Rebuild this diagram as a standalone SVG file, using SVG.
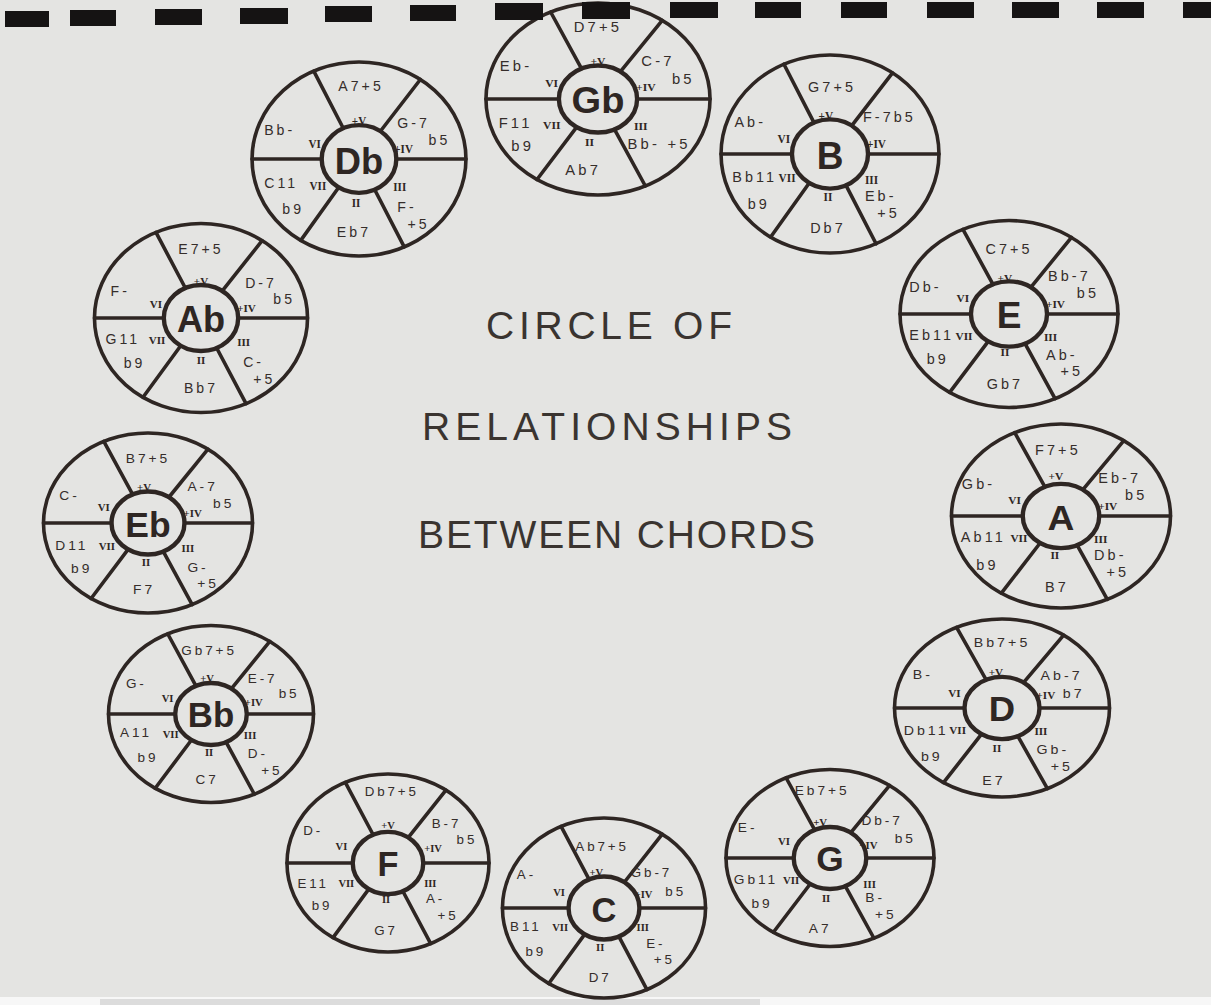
<svg xmlns="http://www.w3.org/2000/svg" xmlns:xlink="http://www.w3.org/1999/xlink" width="1211" height="1005" viewBox="0 0 1211 1005">
<style>
.ink{fill:none;stroke:#2e2623;stroke-width:3.6;vector-effect:non-scaling-stroke;stroke-linecap:round}
.inn{fill:none;stroke:#2e2623;stroke-width:4.4;vector-effect:non-scaling-stroke}
.lbl{font-family:"Liberation Sans",Arial,sans-serif;font-size:14px;fill:#352d2a;letter-spacing:3px}
.num{font-family:"Liberation Serif","Times New Roman",serif;font-weight:bold;font-size:11px;fill:#2e2623}
.key{font-family:"Liberation Sans",Arial,sans-serif;font-size:36px;font-weight:bold;fill:#2e2623;text-anchor:middle}
.m{text-anchor:middle}
.title{font-family:"Liberation Sans",Arial,sans-serif;font-size:39px;fill:#3a3430}
.hole{fill:#151313}
</style>
<defs>
<g id="wheel">
<ellipse class="ink" cx="0" cy="0" rx="106" ry="93"/>
<ellipse class="inn" cx="0" cy="0" rx="37" ry="32.5"/>
<line class="ink" x1="-15.6" y1="-29.5" x2="-44.8" y2="-84.3"/>
<line class="ink" x1="21.2" y1="-26.6" x2="60.8" y2="-76.2"/>
<line class="ink" x1="37" y1="0" x2="106" y2="0"/>
<line class="ink" x1="15.6" y1="29.5" x2="44.8" y2="84.3"/>
<line class="ink" x1="-20.2" y1="27.3" x2="-57.7" y2="78"/>
<line class="ink" x1="-37" y1="0" x2="-106" y2="0"/>
</g>
</defs>
<rect x="0" y="0" width="1211" height="1005" fill="#e4e4e2"/>
<rect x="0" y="997" width="1211" height="8" fill="#f7f7f7"/>
<rect x="100" y="999" width="660" height="6" fill="#c9c9c9" opacity="0.6"/>

<g id="title">
<text class="title" x="486" y="339" textLength="246" lengthAdjust="spacing">CIRCLE OF</text>
<text class="title" x="422" y="440" textLength="370" lengthAdjust="spacing">RELATIONSHIPS</text>
<text class="title" x="418" y="548" textLength="397" lengthAdjust="spacing">BETWEEN CHORDS</text>
</g>

<g id="wheel-Gb" transform="translate(598,99) scale(1.057,1.032)">
<use href="#wheel"/>
<text class="lbl m" x="0" y="-65">D7+5</text>
<text class="num m" x="0" y="-33">+V</text>
<text class="lbl" x="41" y="-32">C-7</text>
<text class="lbl" x="70" y="-15">b5</text>
<text class="num" x="36" y="-8">+IV</text>
<text class="num" x="34" y="30">III</text>
<text class="lbl" x="28" y="48">Bb- +5</text>
<text class="num m" x="-8" y="46">II</text>
<text class="lbl m" x="-14" y="74">Ab7</text>
<text class="num" x="-52" y="29">VII</text>
<text class="lbl" x="-94" y="28">F11</text>
<text class="lbl" x="-82" y="50">b9</text>
<text class="num" x="-50" y="-12">VI</text>
<text class="lbl" x="-93" y="-27">Eb-</text>
<text class="key" x="0" y="14">Gb</text>
</g>

<g id="wheel-Db" transform="translate(359,159) scale(1.009,1.043)">
<use href="#wheel"/>
<text class="lbl m" x="2" y="-65">A7+5</text>
<text class="num m" x="0" y="-33">+V</text>
<text class="lbl" x="38" y="-30">G-7</text>
<text class="lbl" x="69" y="-13">b5</text>
<text class="num" x="35" y="-6">+IV</text>
<text class="num" x="34" y="31">III</text>
<text class="lbl" x="38" y="51">F-</text>
<text class="lbl" x="48" y="67">+5</text>
<text class="num m" x="-3" y="46">II</text>
<text class="lbl m" x="-5" y="75">Eb7</text>
<text class="num" x="-49" y="30">VII</text>
<text class="lbl" x="-94" y="28">C11</text>
<text class="lbl" x="-76" y="53">b9</text>
<text class="num" x="-50" y="-11">VI</text>
<text class="lbl" x="-94" y="-23">Bb-</text>
<text class="key" x="0" y="14">Db</text>
</g>

<g id="wheel-B" transform="translate(830,154) scale(1.028,1.065)">
<use href="#wheel"/>
<text class="lbl m" x="2" y="-58">G7+5</text>
<text class="num m" x="-4" y="-32">+V</text>
<text class="lbl" x="32" y="-30">F-7b5</text>
<text class="num" x="36" y="-6">+IV</text>
<text class="num" x="34" y="28">III</text>
<text class="lbl" x="34" y="44">Eb-</text>
<text class="lbl" x="46" y="60">+5</text>
<text class="num m" x="-2" y="44">II</text>
<text class="lbl m" x="-2" y="74">Db7</text>
<text class="num" x="-50" y="26">VII</text>
<text class="lbl" x="-95" y="26">Bb11</text>
<text class="lbl" x="-80" y="52">b9</text>
<text class="num" x="-51" y="-10">VI</text>
<text class="lbl" x="-93" y="-25">Ab-</text>
<text class="key" x="0" y="14">B</text>
</g>

<g id="wheel-Ab" transform="translate(201,318) scale(1.005,1.016)">
<use href="#wheel"/>
<text class="lbl m" x="0" y="-63">E7+5</text>
<text class="num m" x="0" y="-32">+V</text>
<text class="lbl" x="44" y="-30">D-7</text>
<text class="lbl" x="72" y="-14">b5</text>
<text class="num" x="36" y="-6">+IV</text>
<text class="num" x="36" y="28">III</text>
<text class="lbl" x="42" y="48">C-</text>
<text class="lbl" x="52" y="65">+5</text>
<text class="num m" x="0" y="45">II</text>
<text class="lbl m" x="0" y="74">Bb7</text>
<text class="num" x="-52" y="26">VII</text>
<text class="lbl" x="-95" y="26">G11</text>
<text class="lbl" x="-77" y="49">b9</text>
<text class="num" x="-51" y="-10">VI</text>
<text class="lbl" x="-90" y="-22">F-</text>
<text class="key" x="0" y="14">Ab</text>
</g>

<g id="wheel-E" transform="translate(1009,314) scale(1.028,1.005)">
<use href="#wheel"/>
<text class="lbl m" x="0" y="-60">C7+5</text>
<text class="num m" x="-4" y="-32">+V</text>
<text class="lbl" x="38" y="-33">Bb-7</text>
<text class="lbl" x="66" y="-16">b5</text>
<text class="num" x="36" y="-6">+IV</text>
<text class="num" x="34" y="27">III</text>
<text class="lbl" x="36" y="46">Ab-</text>
<text class="lbl" x="50" y="62">+5</text>
<text class="num m" x="-4" y="42">II</text>
<text class="lbl m" x="-4" y="75">Gb7</text>
<text class="num" x="-52" y="26">VII</text>
<text class="lbl" x="-97" y="26">Eb11</text>
<text class="lbl" x="-80" y="50">b9</text>
<text class="num" x="-51" y="-12">VI</text>
<text class="lbl" x="-97" y="-22">Db-</text>
<text class="key" x="0" y="14">E</text>
</g>

<g id="wheel-Eb" transform="translate(148,523) scale(0.986,0.968)">
<use href="#wheel"/>
<text class="lbl m" x="0" y="-62">B7+5</text>
<text class="num m" x="-4" y="-33">+V</text>
<text class="lbl" x="40" y="-33">A-7</text>
<text class="lbl" x="66" y="-16">b5</text>
<text class="num" x="36" y="-6">+IV</text>
<text class="num" x="34" y="30">III</text>
<text class="lbl" x="40" y="51">G-</text>
<text class="lbl" x="50" y="67">+5</text>
<text class="num m" x="-2" y="44">II</text>
<text class="lbl m" x="-4" y="73">F7</text>
<text class="num" x="-50" y="28">VII</text>
<text class="lbl" x="-94" y="28">D11</text>
<text class="lbl" x="-78" y="52">b9</text>
<text class="num" x="-51" y="-12">VI</text>
<text class="lbl" x="-90" y="-24">C-</text>
<text class="key" x="0" y="14">Eb</text>
</g>

<g id="wheel-A" transform="translate(1061,516) scale(1.033,0.989)">
<use href="#wheel"/>
<text class="lbl m" x="-3" y="-62">F7+5</text>
<text class="num m" x="-5" y="-36">+V</text>
<text class="lbl" x="36" y="-33">Eb-7</text>
<text class="lbl" x="62" y="-16">b5</text>
<text class="num" x="36" y="-6">+IV</text>
<text class="num" x="32" y="27">III</text>
<text class="lbl" x="32" y="44">Db-</text>
<text class="lbl" x="44" y="62">+5</text>
<text class="num m" x="-6" y="43">II</text>
<text class="lbl m" x="-4" y="77">B7</text>
<text class="num" x="-49" y="26">VII</text>
<text class="lbl" x="-97" y="26">Ab11</text>
<text class="lbl" x="-82" y="55">b9</text>
<text class="num" x="-51" y="-12">VI</text>
<text class="lbl" x="-96" y="-27">Gb-</text>
<text class="key" x="0" y="14">A</text>
</g>

<g id="wheel-Bb" transform="translate(211,714) scale(0.967,0.952)">
<use href="#wheel"/>
<text class="lbl m" x="-2" y="-62">Gb7+5</text>
<text class="num m" x="-4" y="-34">+V</text>
<text class="lbl" x="38" y="-33">E-7</text>
<text class="lbl" x="70" y="-17">b5</text>
<text class="num" x="35" y="-8">+IV</text>
<text class="num" x="34" y="26">III</text>
<text class="lbl" x="38" y="46">D-</text>
<text class="lbl" x="52" y="64">+5</text>
<text class="num m" x="-2" y="44">II</text>
<text class="lbl m" x="-4" y="74">C7</text>
<text class="num" x="-50" y="25">VII</text>
<text class="lbl" x="-94" y="24">A11</text>
<text class="lbl" x="-76" y="50">b9</text>
<text class="num" x="-51" y="-13">VI</text>
<text class="lbl" x="-88" y="-27">G-</text>
<text class="key" x="0" y="14">Bb</text>
</g>

<g id="wheel-D" transform="translate(1002,708) scale(1.014,0.957)">
<use href="#wheel"/>
<text class="lbl m" x="0" y="-64">Bb7+5</text>
<text class="num m" x="-6" y="-33">+V</text>
<text class="lbl" x="38" y="-29">Ab-7</text>
<text class="lbl" x="60" y="-10">b7</text>
<text class="num" x="34" y="-9">+IV</text>
<text class="num" x="32" y="28">III</text>
<text class="lbl" x="34" y="48">Gb-</text>
<text class="lbl" x="48" y="66">+5</text>
<text class="num m" x="-5" y="46">II</text>
<text class="lbl m" x="-8" y="80">E7</text>
<text class="num" x="-52" y="27">VII</text>
<text class="lbl" x="-97" y="28">Db11</text>
<text class="lbl" x="-80" y="55">b9</text>
<text class="num" x="-53" y="-12">VI</text>
<text class="lbl" x="-88" y="-30">B-</text>
<text class="key" x="0" y="14">D</text>
</g>

<g id="wheel-F" transform="translate(388,863) scale(0.953,0.957)">
<use href="#wheel"/>
<text class="lbl m" x="4" y="-70">Db7+5</text>
<text class="num m" x="0" y="-36">+V</text>
<text class="lbl" x="46" y="-37">B-7</text>
<text class="lbl" x="72" y="-20">b5</text>
<text class="num" x="38" y="-12">+IV</text>
<text class="num" x="38" y="25">III</text>
<text class="lbl" x="40" y="42">A-</text>
<text class="lbl" x="52" y="60">+5</text>
<text class="num m" x="-2" y="42">II</text>
<text class="lbl m" x="-2" y="75">G7</text>
<text class="num" x="-52" y="25">VII</text>
<text class="lbl" x="-95" y="26">E11</text>
<text class="lbl" x="-80" y="49">b9</text>
<text class="num" x="-55" y="-14">VI</text>
<text class="lbl" x="-89" y="-29">D-</text>
<text class="key" x="0" y="14">F</text>
</g>

<g id="wheel-C" transform="translate(604,908) scale(0.958,0.968)">
<use href="#wheel"/>
<text class="lbl m" x="-2" y="-59">Ab7+5</text>
<text class="num m" x="-8" y="-33">+V</text>
<text class="lbl" x="28" y="-32">Gb-7</text>
<text class="lbl" x="64" y="-12">b5</text>
<text class="num" x="32" y="-10">+IV</text>
<text class="num" x="34" y="24">III</text>
<text class="lbl" x="44" y="41">E-</text>
<text class="lbl" x="52" y="58">+5</text>
<text class="num m" x="-4" y="44">II</text>
<text class="lbl m" x="-4" y="76">D7</text>
<text class="num" x="-54" y="24">VII</text>
<text class="lbl" x="-98" y="24">B11</text>
<text class="lbl" x="-82" y="50">b9</text>
<text class="num" x="-53" y="-12">VI</text>
<text class="lbl" x="-91" y="-30">A-</text>
<text class="key" x="0" y="14">C</text>
</g>

<g id="wheel-G" transform="translate(830,858) scale(0.981,0.952)">
<use href="#wheel"/>
<text class="lbl m" x="-8" y="-66">Eb7+5</text>
<text class="num m" x="-10" y="-34">+V</text>
<text class="lbl" x="32" y="-35">Db-7</text>
<text class="lbl" x="66" y="-16">b5</text>
<text class="num" x="30" y="-9">+IV</text>
<text class="num" x="34" y="31">III</text>
<text class="lbl" x="36" y="46">B-</text>
<text class="lbl" x="46" y="64">+5</text>
<text class="num m" x="-4" y="46">II</text>
<text class="lbl m" x="-10" y="79">A7</text>
<text class="num" x="-48" y="27">VII</text>
<text class="lbl" x="-98" y="27">Gb11</text>
<text class="lbl" x="-80" y="53">b9</text>
<text class="num" x="-53" y="-14">VI</text>
<text class="lbl" x="-94" y="-27">E-</text>
<text class="key" x="0" y="14">G</text>
</g>

<g id="binding">
<rect class="hole" x="5" y="11" width="44" height="16"/>
<rect class="hole" x="70" y="10" width="46" height="16"/>
<rect class="hole" x="155" y="9" width="47" height="16"/>
<rect class="hole" x="240" y="8" width="48" height="16"/>
<rect class="hole" x="325" y="6" width="47" height="16"/>
<rect class="hole" x="410" y="5" width="46" height="16"/>
<rect class="hole" x="495" y="3" width="48" height="17"/>
<rect class="hole" x="582" y="2" width="48" height="17"/>
<rect class="hole" x="670" y="2" width="48" height="16"/>
<rect class="hole" x="755" y="2" width="46" height="16"/>
<rect class="hole" x="841" y="2" width="46" height="16"/>
<rect class="hole" x="927" y="2" width="47" height="16"/>
<rect class="hole" x="1012" y="2" width="47" height="16"/>
<rect class="hole" x="1097" y="2" width="47" height="16"/>
<rect class="hole" x="1183" y="2" width="30" height="16"/>
</g>
</svg>
